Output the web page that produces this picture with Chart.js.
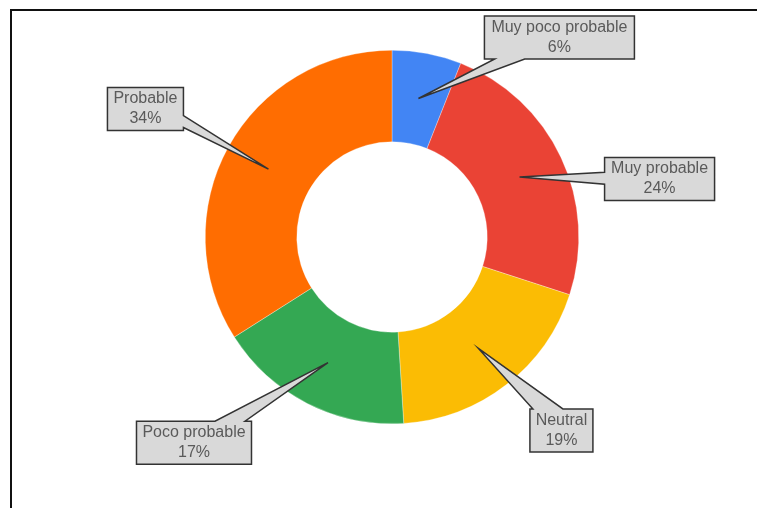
<!DOCTYPE html>
<html>
<head>
<meta charset="utf-8">
<script src="https://cdn.jsdelivr.net/npm/chart.js@4/dist/chart.umd.min.js"></script>
<style>
  html, body { margin: 0; padding: 0; background: #fff; }
  #wrap { position: relative; width: 757px; height: 508px; overflow: hidden; }
  #frame { position: absolute; left: 10px; top: 9px; width: 800px; height: 600px;
           border-top: 2px solid #111; border-left: 2px solid #111; }
  #pie { position: absolute; left: 0; top: 0; }
</style>
</head>
<body>
<div id="wrap">
  <div id="frame"></div>
  <canvas id="pie" width="757" height="508"></canvas>
</div>
<script>
'use strict';

const LABELS = ['Muy poco probable', 'Muy probable', 'Neutral', 'Poco probable', 'Probable'];
const VALUES = [6, 24, 19, 17, 34];
const COLORS = ['#4285f4', '#ea4335', '#fbbc04', '#34a853', '#ff6d01'];

// callout box centre, relative to the slice anchor, and box width
const CALLOUTS = [
    { dx: 141,  dy: -61, w: 150 },
    { dx: 140,  dy: 2,   w: 110 },
    { dx: 83,   dy: 82,  w: 63  },
    { dx: -134, dy: 80,  w: 115 },
    { dx: -123, dy: -60, w: 76  },
];
const BOX_H = 43;

// ── Callout boxes with a pointer wedge ────────────────────
const calloutPlugin = {
    id: 'callouts',
    afterDatasetsDraw(chart) {
        const ctx = chart.ctx;
        const meta = chart.getDatasetMeta(0);
        const total = VALUES.reduce((s, v) => s + v, 0);
        ctx.save();
        meta.data.forEach((arc, i) => {
            const tip = arc.tooltipPosition();
            const lay = CALLOUTS[i];
            const cx = tip.x + lay.dx, cy = tip.y + lay.dy;
            const x0 = cx - lay.w / 2, x1 = cx + lay.w / 2;
            const y0 = cy - BOX_H / 2, y1 = cy + BOX_H / 2;

            // pick the box side facing the anchor
            const rx = (tip.x - cx) / (lay.w / 2), ry = (tip.y - cy) / (BOX_H / 2);
            let side;
            if (Math.abs(rx) > Math.abs(ry)) side = rx < 0 ? 'left' : 'right';
            else side = ry < 0 ? 'top' : 'bottom';

            let c, h;
            if (side === 'top' || side === 'bottom') {
                const yy = side === 'top' ? y0 : y1;
                c = cx + (tip.x - cx) * (yy - cy) / (tip.y - cy);
                h = 15;
                c = Math.min(Math.max(c, x0 + h + 3), x1 - h - 3);
            } else {
                const xx = side === 'left' ? x0 : x1;
                c = cy + (tip.y - cy) * (xx - cx) / (tip.x - cx);
                h = 6;
                c = Math.min(Math.max(c, y0 + h + 3), y1 - h - 3);
            }

            ctx.beginPath();
            ctx.moveTo(x0, y0);
            if (side === 'top') { ctx.lineTo(c - h, y0); ctx.lineTo(tip.x, tip.y); ctx.lineTo(c + h, y0); }
            ctx.lineTo(x1, y0);
            if (side === 'right') { ctx.lineTo(x1, c - h); ctx.lineTo(tip.x, tip.y); ctx.lineTo(x1, c + h); }
            ctx.lineTo(x1, y1);
            if (side === 'bottom') { ctx.lineTo(c + h, y1); ctx.lineTo(tip.x, tip.y); ctx.lineTo(c - h, y1); }
            ctx.lineTo(x0, y1);
            if (side === 'left') { ctx.lineTo(x0, c + h); ctx.lineTo(tip.x, tip.y); ctx.lineTo(x0, c - h); }
            ctx.closePath();
            ctx.fillStyle = '#d9d9d9';
            ctx.fill();
            ctx.lineWidth = 1.5;
            ctx.lineJoin = 'miter';
            ctx.strokeStyle = '#333333';
            ctx.stroke();

            ctx.fillStyle = '#5a5a5a';
            ctx.font = '16px "Liberation Sans", Arial, sans-serif';
            ctx.textAlign = 'center';
            ctx.textBaseline = 'middle';
            ctx.fillText(LABELS[i], cx, cy - 10);
            ctx.fillText(Math.round(VALUES[i] / total * 100) + '%', cx, cy + 10);
        });
        ctx.restore();
    }
};

new Chart(document.getElementById('pie').getContext('2d'), {
    type: 'doughnut',
    data: {
        labels: LABELS,
        datasets: [{
            data: VALUES,
            backgroundColor: COLORS,
            borderColor: 'rgba(255,255,255,0.6)',
            borderWidth: 0.5,
        }]
    },
    options: {
        responsive: false,
        animation: false,
        cutout: '51%',
        layout: { padding: { left: 205, right: 178, top: 50, bottom: 84 } },
        plugins: {
            legend: { display: false },
            tooltip: { enabled: false }
        }
    },
    plugins: [calloutPlugin]
});
</script>
</body>
</html>
